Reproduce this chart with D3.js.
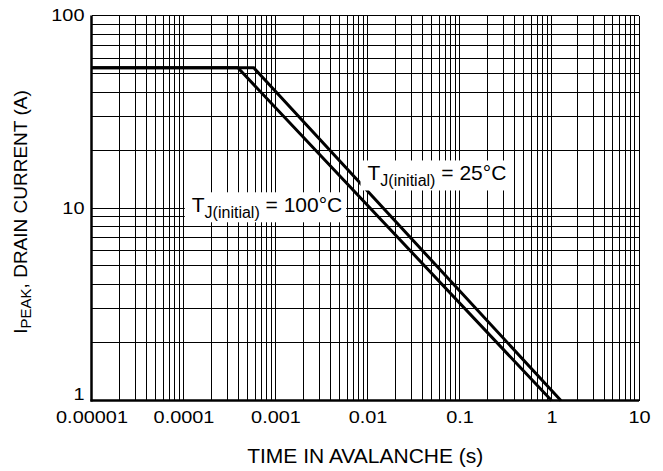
<!DOCTYPE html>
<html>
<head>
<meta charset="utf-8">
<script src="https://cdn.jsdelivr.net/npm/d3@7"></script>
<style>
  body { margin: 0; background: #fff; }
  svg { font-family: "Liberation Sans", Arial, Helvetica, sans-serif; }
</style>
</head>
<body>
<svg id="chart"></svg>
<script>
/// data ///
const xTicks = [0.00001, 0.0001, 0.001, 0.01, 0.1, 1, 10];
const xTickLabels = ["0.00001", "0.0001", "0.001", "0.01", "0.1", "1", "10"];
const yTicks = [1, 10, 100];
const yTickLabels = ["1", "10", "100"];

// T_J(initial) = 25°C (upper curve)
const time25 = [0.00001, 0.00058, 1.28];
const current25 = [53.5, 53.5, 1];
// T_J(initial) = 100°C (lower curve)
const time100 = [0.00001, 0.00039, 1.0];
const current100 = [53.5, 53.5, 1];

/// dimensions ///
const width = 663;
const height = 471;
const margin = {top: 15.5, right: 24, bottom: 70.5, left: 91.5};
const tickScale = 1.17; // tick figures in the source are drawn wide

const svg = d3.select("#chart")
  .attr("width", width)
  .attr("height", height);

/// scales ///
// the last decade of the source grid is a little narrower than the others
const x = d3.scaleLog()
  .domain([0.00001, 1, 10])
  .range([margin.left, 551.5, width - margin.right]);
const y = d3.scaleLog()
  .domain([1, 100])
  .range([height - margin.bottom, margin.top]);

// grid values: 1..9 in every decade
const gridX = [];
for (let e = -5; e < 1; e++) for (let m = 1; m < 10; m++) gridX.push(m * Math.pow(10, e));
gridX.push(10);
const gridY = [];
for (let e = 0; e < 2; e++) for (let m = 1; m < 10; m++) gridY.push(m * Math.pow(10, e));
gridY.push(100);

/// grid ///
const grid = svg.append("g")
  .attr("stroke", "#000")
  .attr("stroke-width", 1)
  .attr("shape-rendering", "crispEdges");
grid.selectAll("line.v")
  .data(gridX)
  .join("line")
    .attr("class", "v")
    .attr("x1", d => x(d)).attr("x2", d => x(d))
    .attr("y1", y(1)).attr("y2", y(100));
grid.selectAll("line.h")
  .data(gridY)
  .join("line")
    .attr("class", "h")
    .attr("y1", d => y(d)).attr("y2", d => y(d))
    .attr("x1", x(0.00001)).attr("x2", x(10));

/// axes (left and bottom drawn heavier) ///
svg.append("line")
  .attr("x1", x(0.00001)).attr("x2", x(0.00001))
  .attr("y1", y(1) + 1).attr("y2", y(100))
  .attr("stroke", "#000").attr("stroke-width", 2.5);
svg.append("line")
  .attr("x1", x(0.00001) - 1).attr("x2", x(10))
  .attr("y1", y(1)).attr("y2", y(1))
  .attr("stroke", "#000").attr("stroke-width", 2.5);

const xAxis = g => g
  .attr("transform", `translate(0,${y(1)})`)
  .call(d3.axisBottom(x).tickValues(xTicks).tickSize(0).tickPadding(10)
    .tickFormat((d, i) => xTickLabels[i]))
  .call(g => g.select(".domain").remove());
const yAxis = g => g
  .attr("transform", `translate(${x(0.00001)},0)`)
  .call(d3.axisLeft(y).tickValues(yTicks).tickSize(0).tickPadding(6)
    .tickFormat((d, i) => yTickLabels[i]))
  .call(g => g.select(".domain").remove())
  // the bottom label sits above its grid line so it clears the x labels
  .call(g => g.selectAll(".tick text").filter(d => d === 1).attr("dy", "-0.05em"));

svg.append("g").call(xAxis)
  .selectAll("text")
    .attr("font-size", 17).attr("fill", "#000")
    .attr("font-family", "Liberation Sans, Arial, sans-serif")
    .attr("transform", `scale(${tickScale},1)`);
svg.append("g").call(yAxis)
  .selectAll("text")
    .attr("font-size", 17).attr("fill", "#000")
    .attr("font-family", "Liberation Sans, Arial, sans-serif")
    .attr("transform", `scale(${tickScale},1)`);

/// axis titles ///
svg.append("text")
  .attr("x", (x(0.00001) + x(10)) / 2)
  .attr("y", 463)
  .attr("text-anchor", "middle")
  .attr("font-size", 21)
  .text("TIME IN AVALANCHE (s)");

const yTitle = svg.append("text")
  .attr("transform", `translate(27,${(y(1) + y(100)) / 2 + 4}) rotate(-90)`)
  .attr("text-anchor", "middle")
  .attr("font-size", 19);
yTitle.append("tspan").text("I");
yTitle.append("tspan").attr("font-size", 15).attr("dy", 4).text("PEAK");
yTitle.append("tspan").attr("dy", -4).text(", DRAIN CURRENT (A)");

/// curves ///
const line = d3.line()
  .x(d => x(d[0]))
  .y(d => y(d[1]));

svg.append("path")
  .datum(d3.zip(time100, current100))
  .attr("fill", "none").attr("stroke", "#000").attr("stroke-width", 3)
  .attr("d", line);
svg.append("path")
  .datum(d3.zip(time25, current25))
  .attr("fill", "none").attr("stroke", "#000").attr("stroke-width", 3)
  .attr("d", line);

/// annotations ///
function label(tx, ty, temp) {
  const g = svg.append("g");
  const rect = g.append("rect").attr("fill", "#fff");
  const t = g.append("text")
    .attr("x", x(tx)).attr("y", y(ty))
    .attr("font-size", 21);
  t.append("tspan").text("T");
  t.append("tspan").attr("font-size", 16).attr("dy", 6).text("J(initial)");
  t.append("tspan").attr("dy", -6).text(` = ${temp}\u00B0C`);
  const b = t.node().getBBox();
  rect.attr("x", b.x - 7).attr("y", b.y - 1)
    .attr("width", b.width + 11).attr("height", b.height + 2);
}
label(0.01, 13.9, 25);
label(0.000123, 9.5, 100);
</script>
</body>
</html>
